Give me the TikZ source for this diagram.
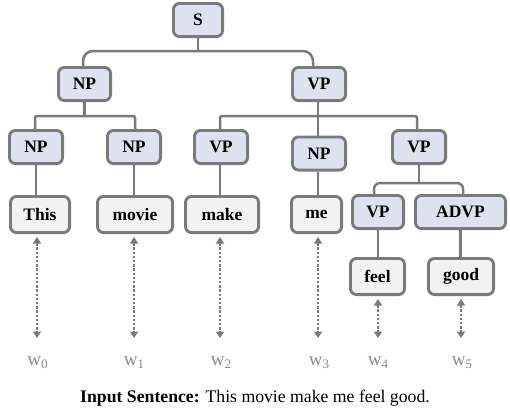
\documentclass[tikz,border=0pt]{standalone}
\usepackage{fontspec}
\setmainfont{Liberation Serif}
\usetikzlibrary{arrows.meta,calc}
\definecolor{bordergray}{HTML}{7A7A7A}
\definecolor{ntfill}{HTML}{DDE1F0}
\definecolor{lffill}{HTML}{F2F2F2}
\definecolor{wgray}{HTML}{8A8A8A}
\newcommand\wsub[1]{{\fontsize{19}{19}\selectfont w}\raisebox{-3.5pt}{\fontsize{13}{13}\selectfont #1}}
\begin{document}
\begin{tikzpicture}[x=1pt,y=-1pt,
 box/.style={draw=bordergray, line width=2.9pt, rounded corners=6pt, inner sep=0pt,
   font=\fontsize{17.5}{17.5}\selectfont\bfseries, text=black},
 nt/.style={box, fill=ntfill, minimum height=33.1pt},
 leaf/.style={box, fill=lffill, minimum height=36.1pt},
 conn/.style={draw=bordergray, line width=2.5pt},
 dots/.style={draw=bordergray, line width=2.8pt, dash pattern=on 2.4pt off 1.8pt,
   {Triangle[length=6.5pt,width=8pt]}-{Triangle[length=6.5pt,width=8pt]}},
 wlab/.style={text=wgray, inner sep=0pt, anchor=base}
]
\fill[white] (0,0) rectangle (510,418);
\useasboundingbox (0,0) rectangle (510,418);

% nodes
\node[nt, minimum width=49.1pt] (S) at (198,20) {S};
\node[nt, minimum width=52.1pt] (NPa) at (84.5,84) {NP};
\node[nt, minimum width=53.1pt] (VPa) at (319,84) {VP};
\node[nt, minimum width=53.1pt] (NP1) at (36,147) {NP};
\node[nt, minimum width=53.1pt] (NP2) at (134,147) {NP};
\node[nt, minimum width=53.1pt] (VP1) at (221,147) {VP};
\node[nt, minimum width=53.1pt] (NP3) at (319,153.5) {NP};
\node[nt, minimum width=53.1pt] (VP2) at (419,147) {VP};
\node[leaf, minimum width=59.1pt] (This) at (40,214.5) {This};
\node[leaf, minimum width=75.1pt] (movie) at (135,214.5) {movie};
\node[leaf, minimum width=73.1pt] (make) at (222,214.5) {make};
\node[leaf, minimum width=50.1pt] (me) at (316.5,214.5) {me};
\node[nt, minimum width=51.1pt] (VP3) at (378,212) {VP};
\node[nt, minimum width=90.1pt] (ADVP) at (460.5,212) {ADVP};
\node[leaf, minimum width=54.1pt] (feel) at (377.5,276.5) {feel};
\node[leaf, minimum width=65.1pt] (good) at (461,276.5) {good};

% tree connectors
\draw[conn] (S.south) -- ++(0,13) coordinate (j1);
\draw[conn, rounded corners=10pt] ([xshift=-1.5pt]NPa.north) |- (j1) -| ([xshift=-6pt]VPa.north);
\draw[conn] (NPa.south) -- ++(0,14) coordinate (j2);
\draw[conn, rounded corners=2pt] ([xshift=-1pt]NP1.north) |- (j2) -| ([xshift=1pt]NP2.north);
\draw[conn] ([xshift=-1pt]VPa.south) -- ++(0,14) coordinate (j3);
\draw[conn, rounded corners=2pt] ([xshift=-1pt]VP1.north) |- (j3) -| ([xshift=-2pt]VP2.north);
\draw[conn] (j3) -- (j3 |- NP3.north);
\draw[conn] (NP1.south) -- (NP1.south |- This.north);
\draw[conn] (NP2.south) -- (NP2.south |- movie.north);
\draw[conn] ([xshift=-1pt]VP1.south) -- ([xshift=-1pt]VP1.south |- make.north);
\draw[conn] ([xshift=-1pt]NP3.south) -- ([xshift=-1pt]NP3.south |- me.north);
\draw[conn] (VP2.south) -- ++(0,18) coordinate (j4);
\draw[conn, rounded corners=6pt] ([xshift=-4pt]VP3.north) |- (j4) -| ([xshift=2.5pt]ADVP.north);
\draw[conn] (VP3.south) -- (VP3.south |- feel.north);
\draw[conn] (ADVP.south) -- (ADVP.south |- good.north);

% arrow ends
\coordinate (e0) at (37,338);
\coordinate (e1) at (134,338);
\coordinate (e2) at (220,338);
\coordinate (e3) at (318,338);
\coordinate (e4) at (378,338);
\coordinate (e5) at (461,338);

\draw[dots] ($(This.south -| e0)+(0,3)$) -- (e0);
\draw[dots] ($(movie.south -| e1)+(0,3)$) -- (e1);
\draw[dots] ($(make.south -| e2)+(0,3)$) -- (e2);
\draw[dots] ($(me.south -| e3)+(0,3)$) -- (e3);
\draw[dots] ($(feel.south -| e4)+(0,3)$) -- (e4);
\draw[dots] ($(good.south -| e5)+(0,3)$) -- (e5);

% word labels
\node[wlab] (w0) at (37.5,365) {\wsub{0}};
\node[wlab] (w1) at (134,365) {\wsub{1}};
\node[wlab] (w2) at (221,365) {\wsub{2}};
\node[wlab] (w3) at (319,365) {\wsub{3}};
\node[wlab] (w4) at (378,365) {\wsub{4}};
\node[wlab] (w5) at (462,365) {\wsub{5}};

% caption
\node[anchor=base, inner sep=0pt, font=\fontsize{17.7}{17.7}\selectfont] (cap) at (255,402)
  {\textbf{Input Sentence:} This movie make me feel good.};
\end{tikzpicture}
\end{document}
